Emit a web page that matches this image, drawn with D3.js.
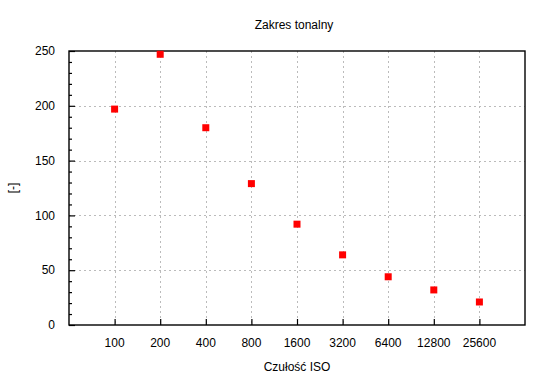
<!DOCTYPE html>
<html>
<head>
<meta charset="utf-8">
<script src="https://cdn.jsdelivr.net/npm/d3@7"></script>
<style>
  html, body { margin: 0; padding: 0; background: #fff; }
  svg text { font-family: "Liberation Sans", Arial, sans-serif !important; font-size: 12px; fill: #000; }
</style>
</head>
<body>
<svg id="chart" width="550" height="380"></svg>
<script>
const categories = ["100", "200", "400", "800", "1600", "3200", "6400", "12800", "25600"];
const values = [197, 247, 180, 129, 92, 64, 44, 32, 21];
const yTicks = [0, 50, 100, 150, 200, 250];
const title = "Zakres tonalny";
const xTitle = "Czułość ISO";
const yTitle = "[-]";

const margin = { left: 69, top: 51, right: 25, bottom: 55 };
const W = 550, H = 380;
const FONT = "'Liberation Sans', Arial, sans-serif";
const svg = d3.select("#chart");
const iw = W - margin.left - margin.right;
const ih = H - margin.top - margin.bottom;

const x = d3.scaleLinear().domain([0, categories.length + 1]).range([0, iw]);
const y = d3.scaleLinear().domain([0, 250]).range([ih, 0]);

const g = svg.append("g").attr("transform", `translate(${margin.left},${margin.top})`);

// grid
g.append("g").selectAll("line").data(categories).join("line")
  .attr("x1", (d, i) => Math.round(x(i + 1)) + 0.5).attr("x2", (d, i) => Math.round(x(i + 1)) + 0.5)
  .attr("y1", 0).attr("y2", ih)
  .attr("stroke", "#bbb").attr("stroke-dasharray", "2,3");
g.append("g").selectAll("line").data(yTicks.filter(v => v > 0 && v < 250)).join("line")
  .attr("y1", d => Math.round(y(d)) + 0.5).attr("y2", d => Math.round(y(d)) + 0.5)
  .attr("x1", 0).attr("x2", iw)
  .attr("stroke", "#bbb").attr("stroke-dasharray", "2,3");

// y axis ticks (inward)
const yAxis = d3.axisRight(y).tickValues(yTicks).tickSize(6).tickFormat("");
const yg = g.append("g").call(yAxis);
yg.select(".domain").remove();
yg.selectAll("line").attr("stroke", "#000").attr("stroke-width", 1.2);
const yMinor = d3.axisRight(y).tickValues(d3.range(0, 251, 10).filter(v => v % 50 !== 0)).tickSize(3).tickFormat("");
const ymg = g.append("g").call(yMinor);
ymg.select(".domain").remove();
ymg.selectAll("line").attr("stroke", "#000").attr("stroke-width", 1.2);

// y labels
g.append("g").selectAll("text").data(yTicks).join("text")
  .attr("x", -14).attr("y", d => y(d)).attr("dy", "0.35em")
  .attr("text-anchor", "end").style("font-family", FONT).text(d => d);

// x axis ticks (inward)
const xAxis = d3.axisTop(x).tickValues(categories.map((d, i) => i + 1)).tickSize(6).tickFormat("");
const xg = g.append("g").attr("transform", `translate(0,${ih})`).call(xAxis);
xg.select(".domain").remove();
xg.selectAll("line").attr("stroke", "#000").attr("stroke-width", 1.2);

g.append("g").selectAll("text").data(categories).join("text")
  .attr("x", (d, i) => x(i + 1)).attr("y", ih + 18).attr("dy", "0.35em")
  .attr("text-anchor", "middle").style("font-family", FONT).text(d => d);

// frame
g.append("rect").attr("x", 0).attr("y", 0).attr("width", iw).attr("height", ih)
  .attr("fill", "none").attr("stroke", "#000").attr("stroke-width", 1.4);

// points
const s = 7;
g.append("g").selectAll("rect").data(values).join("rect")
  .attr("x", (d, i) => x(i + 1) - s / 2).attr("y", d => y(d) - s / 2)
  .attr("width", s).attr("height", s).attr("fill", "#ff0000");

// titles
svg.append("text").attr("x", 294).attr("y", 25).attr("dy", "0.35em")
  .attr("text-anchor", "middle").style("font-family", FONT).text(title);
svg.append("text").attr("x", margin.left + iw / 2).attr("y", 367).attr("dy", "0.35em")
  .attr("text-anchor", "middle").style("font-family", FONT).text(xTitle);
svg.append("text").attr("transform", `translate(13,188) rotate(-90)`).attr("dy", "0.35em")
  .attr("text-anchor", "middle").style("font-family", FONT).text(yTitle);
</script>
</body>
</html>
